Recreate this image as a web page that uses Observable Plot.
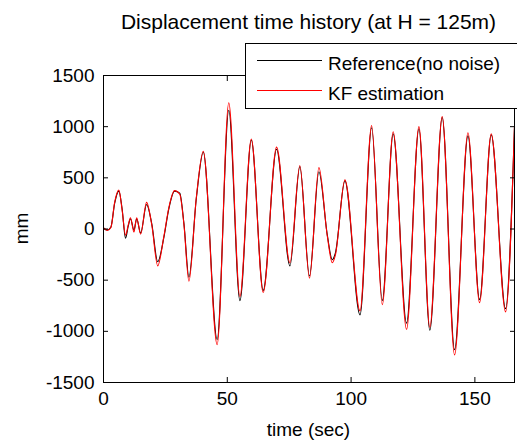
<!DOCTYPE html>
<html>
<head>
<meta charset="utf-8">
<script src="https://cdn.jsdelivr.net/npm/d3@7"></script>
<script src="https://cdn.jsdelivr.net/npm/@observablehq/plot@0.6"></script>
<style>
  html, body { margin: 0; padding: 0; background: white; }
  #chart svg { display: block; }
</style>
</head>
<body>
<div id="chart"></div>
<script>
const titleText = "Displacement time history (at H = 125m)";
const xLabel = "time (sec)";
const yLabel = "mm";
const seriesNames = ["Reference(no noise)", "KF estimation"];
const seriesColors = ["black", "red"];

const times = [0, 1.5, 3, 4.5, 6.2, 7.5, 8.9, 10, 10.9, 12.3, 13.4, 15, 17.4, 19.5, 21.9, 24.4, 26.4, 28.7, 30.8, 32.5, 34.5, 37.5, 40.3, 45.9, 50.6, 55.1, 59.7, 64.5, 69.9, 75.3, 79.3, 83.2, 87, 90.4, 92.4, 93.7, 97.5, 103.6, 108.3, 112.6, 117, 122.4, 127.4, 131.8, 136.8, 141.8, 147.2, 151.9, 156.6, 162.4, 166];
const refValues = [10, -10, 20, 250, 370, 200, -90, 30, 100, -10, 100, -40, 240, 50, -320, -80, 200, 370, 350, 50, -470, 300, 750, -1080, 1160, -700, 870, -600, 780, -360, 610, -460, 560, -60, -300, -230, 470, -840, 990, -700, 930, -920, 980, -990, 1090, -1180, 910, -690, 920, -780, 1000];
const kfValues = [10, -15, 15, 260, 380, 190, -60, 40, 110, -30, 110, -50, 260, 40, -360, -70, 210, 375, 340, 40, -510, 310, 760, -1130, 1234, -660, 880, -620, 800, -330, 620, -480, 600, -70, -330, -250, 480, -800, 1010, -740, 950, -980, 1000, -960, 1100, -1230, 940, -720, 930, -810, 1010];
const xTicks = [0, 50, 100, 150];
const yTicks = [-1500, -1000, -500, 0, 500, 1000, 1500];

const refData = times.map((t, i) => ({t, v: refValues[i]}));
const kfData = times.map((t, i) => ({t, v: kfValues[i]}));

const W = 517, H = 442;
const mL = 103, mR = 3, mT = 75, mB = 60;
const font = "'Liberation Sans', Arial, sans-serif";

const chart = Plot.plot({
  width: W, height: H,
  marginLeft: mL, marginRight: mR, marginTop: mT, marginBottom: mB,
  x: {domain: [0, 166]},
  y: {domain: [-1500, 1500]},
  style: {fontFamily: font, fontSize: "19px", color: "black", background: "white"},
  marks: [
    Plot.line(refData, {x: "t", y: "v", stroke: seriesColors[0], strokeWidth: 1.1, curve: "monotone-x"}),
    Plot.line(kfData, {x: "t", y: "v", stroke: seriesColors[1], strokeWidth: 1.1, curve: "monotone-x"}),
    Plot.frame({stroke: "black", strokeWidth: 1}),
    Plot.axisX({ticks: xTicks, tickSize: -5, tickFormat: d => String(d), label: null}),
    Plot.axisX({anchor: "top", ticks: xTicks, tickSize: -5, tickFormat: () => "", label: null}),
    Plot.axisY({ticks: yTicks, tickSize: -5, tickFormat: d => String(d), label: null}),
    Plot.axisY({anchor: "right", ticks: yTicks, tickSize: -5, tickFormat: () => "", label: null})
  ]
});
document.getElementById("chart").appendChild(chart);

const svg = d3.select(chart);
const cx = (mL + (W - mR)) / 2;
const cy = (mT + (H - mB)) / 2;

svg.append("text").attr("x", cx).attr("y", 29).attr("text-anchor", "middle")
  .attr("font-family", font).attr("font-size", 21).attr("fill", "black").text(titleText);
svg.append("text").attr("x", cx).attr("y", 436).attr("text-anchor", "middle")
  .attr("font-family", font).attr("font-size", 19).attr("fill", "black").text(xLabel);
svg.append("text").attr("transform", `translate(28,${cy}) rotate(-90)`).attr("text-anchor", "middle")
  .attr("font-family", font).attr("font-size", 19).attr("fill", "black").text(yLabel);

const lg = svg.append("g");
lg.append("rect").attr("x", 245.5).attr("y", 43.5).attr("width", 300).attr("height", 65)
  .attr("fill", "white").attr("stroke", "black").attr("stroke-width", 1);
seriesNames.forEach((name, i) => {
  const y = 60 + i * 30;
  lg.append("line").attr("x1", 257).attr("x2", 322).attr("y1", y + 0.5).attr("y2", y + 0.5)
    .attr("stroke", seriesColors[i]).attr("stroke-width", 1);
  lg.append("text").attr("x", 328).attr("y", y + 9.5).attr("text-anchor", "start")
    .attr("font-family", font).attr("font-size", 19).attr("fill", "black").text(name);
});
</script>
</body>
</html>
